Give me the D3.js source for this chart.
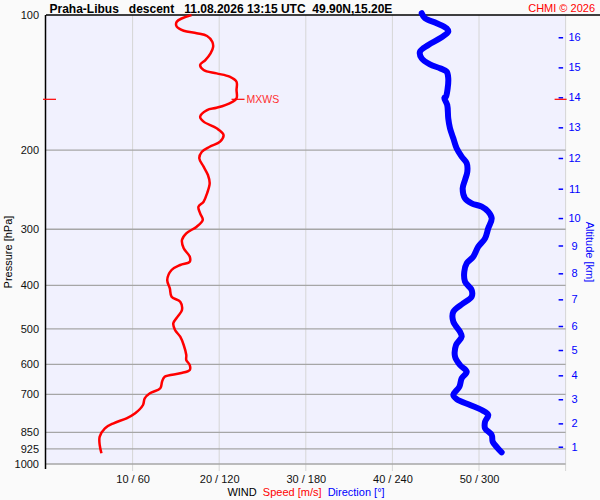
<!DOCTYPE html>
<html><head><meta charset="utf-8">
<script src="https://cdn.jsdelivr.net/npm/d3@7/dist/d3.min.js"></script>
<style>
html,body{margin:0;padding:0;background:#fafafa}
svg{display:block;font-family:"Liberation Sans",Arial,Helvetica,sans-serif}
</style>
</head><body>
<svg id="chart" width="600" height="500"></svg>
<script>
// ---- data ----
const titleText = "Praha-Libus   descent   11.08.2026 13:15 UTC  49.90N,15.20E";
const pressureTicks = [100, 200, 300, 400, 500, 600, 700, 850, 925, 1000];
const windTicks = [10, 20, 30, 40, 50];
const windTickLabels = ["10 / 60", "20 / 120", "30 / 180", "40 / 240", "50 / 300"];
const altitudeKm = [16, 15, 14, 13, 12, 11, 10, 9, 8, 7, 6, 5, 4, 3, 2, 1];
const altitudePressure = [112.1, 130.8, 152.5, 177.9, 208.2, 243.7, 283.3, 326.1, 376.1, 429.8, 492.8, 557.4, 634.6, 717.5, 811.9, 915.2];

const speedPressure = [100, 103.5, 106.2, 108.4, 109.8, 111.4, 114.7, 117.7, 121.7, 126.0, 129.2, 132.6, 134.9, 137.2, 140.8, 146.9, 153.3, 157.3, 160.9, 162.8, 168.5, 172.8, 178.8, 185.0, 191.5, 196.5, 201.6, 208.5, 217.7, 227.2, 237.0, 249.5, 260.5, 267.3, 276.5, 286.1, 296.1, 306.3, 317.0, 330.8, 345.4, 354.4, 360.4, 369.8, 389.2, 406.2, 424.0, 435.1, 454.0, 469.8, 486.0, 503.0, 520.6, 543.2, 571.8, 586.7, 601.9, 617.5, 628.1, 639.1, 655.7, 678.3, 695.9, 714.0, 738.9, 771.0, 791.1, 811.5, 832.6, 869.2, 907.1, 946.6];
const speedValues = [16.8, 15.1, 15.1, 15.9, 17.4, 18.6, 19.2, 19.3, 19.0, 18.4, 17.8, 18.2, 19.7, 21.2, 22.0, 22.0, 22.0, 21.2, 19.7, 18.6, 17.8, 18.2, 19.7, 20.5, 20.1, 18.9, 18.0, 17.7, 18.2, 18.7, 18.9, 18.6, 18.2, 17.6, 17.8, 18.1, 17.4, 16.2, 15.7, 15.9, 16.6, 16.6, 15.5, 14.5, 14.0, 14.3, 14.5, 15.5, 15.7, 15.2, 14.7, 14.9, 15.5, 15.9, 16.2, 16.2, 16.6, 16.6, 15.5, 13.7, 13.4, 13.2, 12.0, 11.4, 11.2, 10.3, 9.3, 7.8, 6.8, 6.2, 6.2, 6.4];

const dirPressure = [99.1, 101.7, 104.3, 107.1, 108.9, 112.7, 116.6, 120.7, 124.9, 128.8, 131.4, 133.7, 138.4, 145.6, 152.0, 153.0, 158.7, 169.9, 178.8, 188.2, 198.1, 206.8, 213.9, 223.4, 233.1, 243.2, 256.0, 262.7, 267.3, 274.2, 283.7, 298.6, 314.3, 328.1, 345.4, 357.3, 373.0, 392.6, 409.7, 424.0, 438.6, 458.0, 482.1, 507.4, 520.6, 543.2, 576.8, 601.9, 622.9, 644.4, 672.8, 702.0, 716.6, 738.9, 758.1, 777.8, 805.0, 832.6, 861.9, 892.0, 919.8, 941.7];
const dirValues = [260.3, 262.6, 270.7, 277.6, 278.7, 273.0, 264.9, 259.1, 260.3, 266.0, 273.0, 277.6, 278.7, 278.3, 277.1, 276.0, 278.0, 278.7, 279.9, 282.2, 284.5, 288.0, 291.5, 291.9, 290.3, 288.7, 290.3, 294.9, 301.9, 306.4, 308.8, 306.4, 304.2, 299.5, 296.0, 291.5, 289.8, 290.3, 294.9, 294.9, 289.1, 282.2, 282.2, 286.8, 288.0, 284.1, 283.4, 286.8, 291.5, 288.0, 286.4, 282.2, 284.5, 293.8, 301.9, 306.4, 304.2, 304.2, 308.8, 309.5, 312.7, 315.7];

const mxwsPressure = 153.3;
const mxwsSpeed = 22.0;

// ---- scales ----
const L = 46, R = 565.6, T = 15, B = 464;
const x = d3.scaleLinear().domain([0, 60]).range([L, R]);
const xd = d3.scaleLinear().domain([0, 360]).range([L, R]);
const y = d3.scaleLog().domain([100, 1000]).range([T, B]);

const svg = d3.select("#chart");
svg.append("rect").attr("width", 600).attr("height", 500).attr("fill", "#fafafa");
svg.append("rect").attr("x", L).attr("y", T).attr("width", R - L).attr("height", B - T).attr("fill", "#f1f1fe");

// vertical grid lines (extend below as ticks)
svg.append("g").selectAll("line").data([10, 20, 30, 40, 50, 60]).join("line")
  .attr("x1", d => x(d)).attr("x2", d => x(d)).attr("y1", T).attr("y2", B + 7)
  .attr("stroke", "#d6d6d6").attr("stroke-width", 1);

// horizontal grid lines
svg.append("g").selectAll("line").data(pressureTicks.slice(1)).join("line")
  .attr("x1", L).attr("x2", R).attr("y1", d => y(d)).attr("y2", d => y(d))
  .attr("stroke", "#a6a6a6").attr("stroke-width", 1.3);

// left pressure axis
const leftAxis = svg.append("g").attr("transform", `translate(${L - 7},0)`)
  .call(d3.axisLeft(y).tickValues(pressureTicks).tickSize(0).tickPadding(0).tickFormat(d => d));
leftAxis.select(".domain").remove();
leftAxis.selectAll("text").attr("font-size", 11).attr("fill", "#111").attr("font-family", "Liberation Sans, Arial, sans-serif");

// axis frame lines
svg.append("line").attr("x1", L - 0.5).attr("x2", L - 0.5).attr("y1", T).attr("y2", B + 5).attr("stroke", "#000").attr("stroke-width", 1.5);
svg.append("line").attr("x1", L).attr("x2", 600).attr("y1", T).attr("y2", T).attr("stroke", "#000").attr("stroke-width", 1.5);

// bottom wind axis labels
const bottomAxis = svg.append("g").attr("transform", `translate(0,${B + 8})`)
  .call(d3.axisBottom(x).tickValues(windTicks).tickSize(0).tickPadding(3).tickFormat((d, i) => windTickLabels[i]));
bottomAxis.select(".domain").remove();
bottomAxis.selectAll("text").attr("font-size", 11).attr("fill", "#111").attr("font-family", "Liberation Sans, Arial, sans-serif");

// right altitude axis
const rightAxis = svg.append("g").attr("transform", `translate(${R - 1.5},0)`)
  .call(d3.axisRight(y).tickValues(altitudePressure).tickSize(0).tickPadding(0).tickFormat((d, i) => altitudeKm[i]));
rightAxis.select(".domain").remove();
rightAxis.selectAll("text").attr("x", 10.5).attr("text-anchor", "middle").attr("font-size", 11).attr("fill", "#0000ff").attr("font-family", "Liberation Sans, Arial, sans-serif");
rightAxis.selectAll(".tick").append("line").attr("x1", -5.5).attr("x2", -1).attr("stroke", "#0000ff").attr("stroke-width", 1.5);

// titles
svg.append("text").attr("x", 49.5).attr("y", 12.5).attr("font-size", 12).attr("font-weight", "bold")
  .attr("fill", "#000").style("white-space", "pre").text(titleText);
svg.append("text").attr("x", 595).attr("y", 12).attr("text-anchor", "end").attr("font-size", 11)
  .attr("fill", "#ff0000").text("CHMI © 2026");

svg.append("text").attr("transform", "translate(12,252) rotate(-90)").attr("text-anchor", "middle")
  .attr("font-size", 11).attr("fill", "#000").text("Pressure [hPa]");
svg.append("text").attr("transform", "translate(585.5,252) rotate(90)").attr("text-anchor", "middle")
  .attr("font-size", 11).attr("fill", "#0000ff").text("Altitude [km]");

const wl = svg.append("text").attr("x", 306).attr("y", 496).attr("text-anchor", "middle").attr("font-size", 11).style("white-space", "pre");
wl.append("tspan").attr("fill", "#000").text("WIND  ");
wl.append("tspan").attr("fill", "#ff0000").text("Speed [m/s]  ");
wl.append("tspan").attr("fill", "#0000ff").text("Direction [°]");

// direction curve
const dirData = dirPressure.map((p, i) => [p, dirValues[i]]);
svg.append("path").datum(dirData)
  .attr("d", d3.line().x(d => xd(d[1])).y(d => y(d[0])).curve(d3.curveCatmullRom.alpha(0.5)))
  .attr("fill", "none").attr("stroke", "#0000ff").attr("stroke-width", 6)
  .attr("stroke-linecap", "round").attr("stroke-linejoin", "round");

// speed curve
const spData = speedPressure.map((p, i) => [p, speedValues[i]]);
svg.append("path").datum(spData)
  .attr("d", d3.line().x(d => x(d[1])).y(d => y(d[0])).curve(d3.curveCatmullRom.alpha(0.5)))
  .attr("fill", "none").attr("stroke", "#ff0000").attr("stroke-width", 2.5)
  .attr("stroke-linejoin", "round");

// MXWS markers
const my = y(mxwsPressure) + 1;
svg.append("line").attr("x1", L - 3).attr("x2", L + 10).attr("y1", my).attr("y2", my).attr("stroke", "#ff0000").attr("stroke-width", 1.2);
svg.append("line").attr("x1", R - 11).attr("x2", R + 1).attr("y1", my).attr("y2", my).attr("stroke", "#ff0000").attr("stroke-width", 1.2);
svg.append("line").attr("x1", x(mxwsSpeed) - 5).attr("x2", x(mxwsSpeed) + 8).attr("y1", my).attr("y2", my).attr("stroke", "#ff0000").attr("stroke-width", 1.2);
svg.append("text").attr("x", x(mxwsSpeed) + 10).attr("y", my + 4).attr("font-size", 10.5).attr("fill", "#ff3030").text("MXWS");
</script>
</body></html>
